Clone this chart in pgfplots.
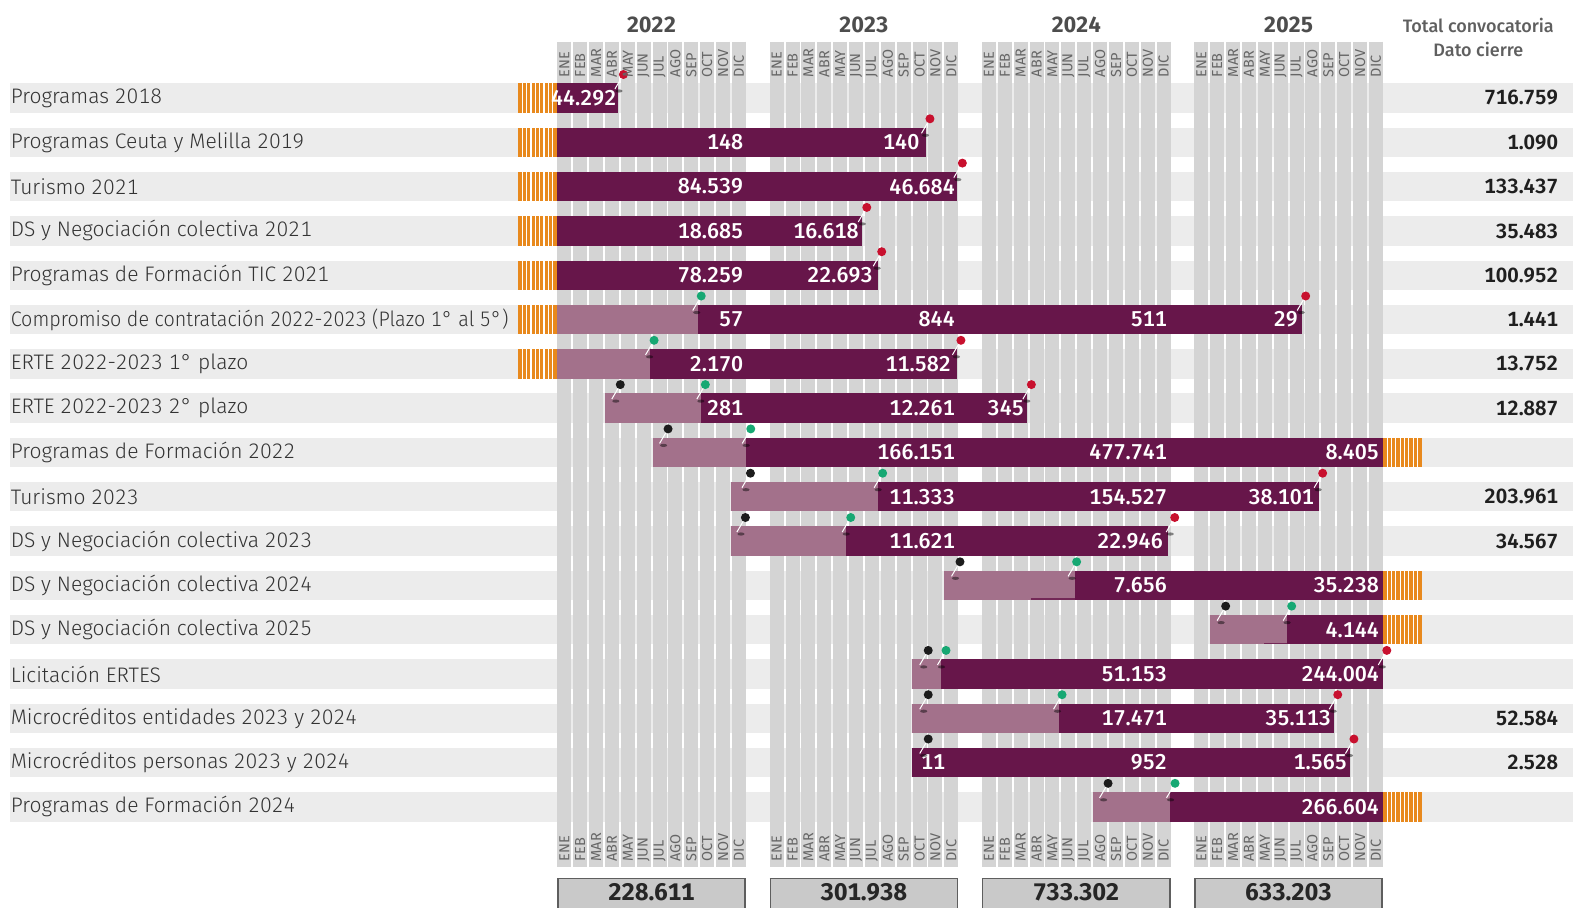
\documentclass[border=0pt]{standalone}
\usepackage{pgfplots}
\pgfplotsset{compat=1.18}
\usepackage{pgfplotstable}
\usepackage{fontspec}
\setmainfont{Fira Sans}[Numbers={Monospaced,Lining}]
\newfontfamily\firalight{Fira Sans Light}[Numbers={Monospaced,Lining}]
\newfontfamily\firamed{Fira Sans Medium}[Numbers={Monospaced,Lining}]
\newfontfamily\firasemi{Fira Sans SemiBold}[Numbers={Monospaced,Lining}]

\definecolor{darkp}{HTML}{67164A}
\definecolor{lightp}{HTML}{A3718B}
\definecolor{orng}{HTML}{E8891D}
\definecolor{bandg}{HTML}{ECECEC}
\definecolor{colg}{HTML}{D4D4D4}
\definecolor{pinr}{HTML}{C8102E}
\definecolor{ping}{HTML}{17A873}
\definecolor{pinb}{HTML}{1C1C1C}
\definecolor{txt}{HTML}{333333}
\definecolor{monthc}{HTML}{666666}
\definecolor{yearc}{HTML}{4D4D4D}
\definecolor{boxg}{HTML}{C9C9C9}
\definecolor{boxb}{HTML}{5E5E5E}

\newcommand\rowfont{\firalight\fontsize{21}{24}\selectfont}
\newcommand\barfont{\firamed\fontsize{21.5}{24}\selectfont}
\newcommand\totfont{\firasemi\fontsize{20.5}{24}\selectfont}
\newcommand\yearfont{\fontsize{22}{26}\selectfont\bfseries}
\newcommand\monthfont{\fontsize{14.5}{17}\selectfont}
\newcommand\headfont{\firamed\fontsize{18}{20}\selectfont}
\newcommand\boxfont{\fontsize{24}{26}\selectfont\bfseries}

\newcommand\declarepin[2]{%
 \pgfdeclareplotmark{#1}{%
  \pgfsetfillopacity{0.45}%
  \pgfpathellipse{\pgfpoint{0pt}{7pt}}{\pgfpoint{3.6pt}{0pt}}{\pgfpoint{0pt}{1.6pt}}%
  \pgfsetfillcolor{black}\pgfusepath{fill}%
  \pgfsetfillopacity{1}%
  \pgfpathmoveto{\pgfpoint{-4pt}{9pt}}\pgfpathlineto{\pgfpoint{4.5pt}{23.5pt}}%
  \pgfsetstrokecolor{white}\pgfsetlinewidth{1pt}\pgfusepath{stroke}%
  \pgfpathcircle{\pgfpoint{4.5pt}{23.5pt}}{4.5pt}%
  \pgfsetfillcolor{#2}\pgfusepath{fill}%
 }}
\declarepin{pinblack}{pinb}
\declarepin{pingreen}{ping}
\declarepin{pinred}{pinr}

\pgfdeclareplotmark{stripes}{%
  \pgfsetstrokecolor{white}\pgfsetlinewidth{1.1pt}%
  \pgfpathmoveto{\pgfpoint{4.33pt}{-14.7pt}}\pgfpathlineto{\pgfpoint{4.33pt}{14.7pt}}%
  \pgfpathmoveto{\pgfpoint{8.66pt}{-14.7pt}}\pgfpathlineto{\pgfpoint{8.66pt}{14.7pt}}%
  \pgfpathmoveto{\pgfpoint{12.99pt}{-14.7pt}}\pgfpathlineto{\pgfpoint{12.99pt}{14.7pt}}%
  \pgfpathmoveto{\pgfpoint{17.32pt}{-14.7pt}}\pgfpathlineto{\pgfpoint{17.32pt}{14.7pt}}%
  \pgfpathmoveto{\pgfpoint{21.65pt}{-14.7pt}}\pgfpathlineto{\pgfpoint{21.65pt}{14.7pt}}%
  \pgfpathmoveto{\pgfpoint{25.98pt}{-14.7pt}}\pgfpathlineto{\pgfpoint{25.98pt}{14.7pt}}%
  \pgfpathmoveto{\pgfpoint{30.31pt}{-14.7pt}}\pgfpathlineto{\pgfpoint{30.31pt}{14.7pt}}%
  \pgfpathmoveto{\pgfpoint{34.64pt}{-14.7pt}}\pgfpathlineto{\pgfpoint{34.64pt}{14.7pt}}%
  \pgfusepath{stroke}}

% x unit: months (2022 ENE starts at 0); y unit: row number
\pgfplotstableread[col sep=comma]{
r,name
1,Programas 2018
2,Programas Ceuta y Melilla 2019
3,Turismo 2021
4,DS y Negociación colectiva 2021
5,Programas de Formación TIC 2021
6,\scalebox{0.94}[1]{Compromiso de contratación 2022-2023 (Plazo 1° al 5°)}
7,ERTE 2022-2023 1° plazo
8,ERTE 2022-2023 2° plazo
9,Programas de Formación 2022
10,Turismo 2023
11,DS y Negociación colectiva 2023
12,DS y Negociación colectiva 2024
13,DS y Negociación colectiva 2025
14,Licitación ERTES
15,Microcréditos entidades 2023 y 2024
16,Microcréditos personas 2023 y 2024
17,Programas de Formación 2024
}\names

\pgfplotstableread{
r s e
1 0 3.84
2 0 23.45
3 0 25.43
4 0 19.38
5 0 20.38
6 8.95 47.37
7 5.90 25.43
8 9.14 29.90
9 12.00 52.51
10 20.40 48.44
11 18.35 38.85
12 32.93 52.51
13 46.42 52.51
14 24.40 52.51
15 31.91 49.41
16 22.56 50.43
17 39.00 52.51
}\darkbars

\pgfplotstableread{
r s e
6 0 8.95
7 0 5.90
8 3.03 9.14
9 6.09 12.00
10 11.07 20.40
11 11.07 18.35
12 24.60 32.93
13 41.52 46.42
14 22.56 24.40
15 22.56 31.91
17 34.06 39.00
}\lightbars

\pgfplotstableread{
r s e
12.31 30.13 32.93
13.31 44.96 46.42
}\darkedge

\pgfplotstableread{
r s e
1 -2.50 -0.04
2 -2.50 -0.04
3 -2.50 -0.04
4 -2.50 -0.04
5 -2.50 -0.04
6 -2.50 -0.04
7 -2.50 -0.04
9 52.51 55.01
12 52.51 55.01
13 52.51 55.01
17 52.51 55.01
}\orangebars

\pgfplotstableread{
r x
8 3.72
9 6.76
10 12.00
11 11.68
12 25.33
13 42.23
14 23.31
15 23.31
16 23.31
17 34.75
}\pinsblack

\pgfplotstableread{
r x
6 8.87
7 5.87
8 9.13
9 12.02
10 20.41
11 18.38
12 32.75
13 46.43
14 24.44
15 31.82
17 39.01
}\pinsgreen

\pgfplotstableread{
r x
1 3.92
2 23.42
3 25.48
4 19.40
5 20.35
6 47.32
7 25.39
8 29.87
10 48.40
11 38.99
14 52.48
15 49.36
16 50.39
}\pinsred

\pgfplotstableread[col sep=comma]{
x,r,lab
3.77,1,44.292
11.84,2,148
23.04,2,140
11.84,3,84.539
25.30,3,46.684
11.84,4,18.685
19.19,4,16.618
11.84,5,78.259
20.08,5,22.693
11.84,6,57
25.30,6,844
38.79,6,511
47.12,6,29
11.84,7,2.170
25.05,7,11.582
11.84,8,281
25.30,8,12.261
29.69,8,345
25.30,9,166.151
38.79,9,477.741
52.28,9,8.405
25.30,10,11.333
38.79,10,154.527
48.14,10,38.101
25.30,11,11.621
38.53,11,22.946
38.79,12,7.656
52.28,12,35.238
52.28,13,4.144
38.79,14,51.153
52.28,14,244.004
38.79,15,17.471
49.22,15,35.113
24.69,16,11
38.79,16,952
50.24,16,1.565
52.28,17,266.604
}\barlabels

\pgfplotstableread[col sep=comma]{
r,lab
1,716.759
2,1.090
3,133.437
4,35.483
5,100.952
6,1.441
7,13.752
8,12.887
10,203.961
11,34.567
15,52.584
16,2.528
}\totals

\pgfplotstableread[col sep=comma]{
x,m
0.445,ENE
1.455,FEB
2.465,MAR
3.476,ABR
4.486,MAY
5.496,JUN
6.506,JUL
7.516,AGO
8.527,SEP
9.537,OCT
10.547,NOV
11.557,DIC
13.952,ENE
14.962,FEB
15.972,MAR
16.983,ABR
17.993,MAY
19.003,JUN
20.013,JUL
21.023,AGO
22.034,SEP
23.044,OCT
24.054,NOV
25.064,DIC
27.459,ENE
28.469,FEB
29.479,MAR
30.490,ABR
31.500,MAY
32.510,JUN
33.520,JUL
34.530,AGO
35.541,SEP
36.551,OCT
37.561,NOV
38.571,DIC
40.966,ENE
41.976,FEB
42.986,MAR
43.997,ABR
45.007,MAY
46.017,JUN
47.027,JUL
48.037,AGO
49.048,SEP
50.058,OCT
51.068,NOV
52.078,DIC
}\months

\pgfplotstableread[col sep=comma]{
x,s,e,year,total
5.99,0,12.0,2022,228.611
19.50,13.507,25.507,2023,301.938
33.01,27.014,39.014,2024,733.302
46.52,40.521,52.521,2025,633.203
}\years

\begin{document}
\begin{tikzpicture}
\begin{axis}[
  scale only axis, width=1573pt, height=907pt,
  xmin=-35.452, xmax=64.612, ymin=-1.2122, ymax=19.262, y dir=reverse,
  hide axis, clip=false,
]
% row bands
\addplot[draw=none, mark=none, error bars/.cd, x dir=plus, x explicit, error mark=none,
  error bar style={draw=bandg, line width=29.4pt}]
  table[x expr=-34.82, y=r, x error expr=99.5] \names;
% month columns
\addplot[draw=none, mark=none, error bars/.cd, y dir=plus, y explicit, error mark=none,
  error bar style={draw=colg, line width=14pt}]
  table[x=x, y expr=-0.271, y error expr=18.63] \months;
% bars
\addplot[draw=none, mark=none, error bars/.cd, x dir=plus, x explicit, error mark=none,
  error bar style={draw=lightp, line width=29.4pt}]
  table[x=s, y=r, x error expr=\thisrow{e}-\thisrow{s}] \lightbars;
\addplot[draw=none, mark=none, error bars/.cd, x dir=plus, x explicit, error mark=none,
  error bar style={draw=darkp!80!lightp, line width=1.4pt}]
  table[x=s, y=r, x error expr=\thisrow{e}-\thisrow{s}] \darkedge;
\addplot[draw=none, mark=none, error bars/.cd, x dir=plus, x explicit, error mark=none,
  error bar style={draw=darkp, line width=29.4pt}]
  table[x=s, y=r, x error expr=\thisrow{e}-\thisrow{s}] \darkbars;
\addplot[draw=none, mark=none, error bars/.cd, x dir=plus, x explicit, error mark=none,
  error bar style={draw=orng, line width=29.4pt}]
  table[x=s, y=r, x error expr=\thisrow{e}-\thisrow{s}] \orangebars;
\addplot[only marks, mark=stripes] table[x=s, y=r] \orangebars;
% bar value labels
\addplot[draw=none, mark=none, nodes near coords, point meta=explicit symbolic,
  nodes near coords style={anchor=east, inner sep=0pt, text=white, font=\barfont}]
  table[x=x, y=r, meta=lab] \barlabels;
% pins
\addplot[only marks, mark=pinblack] table[x=x, y=r] \pinsblack;
\addplot[only marks, mark=pingreen] table[x=x, y=r] \pinsgreen;
\addplot[only marks, mark=pinred] table[x=x, y=r] \pinsred;
% row names
\addplot[draw=none, mark=none, nodes near coords, point meta=explicit symbolic,
  nodes near coords style={anchor=west, inner sep=0pt, text=txt, font=\rowfont}]
  table[x expr=-34.78, y=r, meta=name] \names;
% totals right
\addplot[draw=none, mark=none, nodes near coords, point meta=explicit symbolic,
  nodes near coords style={anchor=east, inner sep=0pt, text=black!88, font=\totfont}]
  table[x expr=63.68, y=r, meta=lab] \totals;
% month labels
\addplot[draw=none, mark=none, nodes near coords, point meta=explicit symbolic,
  nodes near coords style={rotate=90, anchor=west, inner sep=0pt, text=monthc, font=\monthfont}]
  table[x=x, y expr=0.533, meta=m] \months;
\addplot[draw=none, mark=none, nodes near coords, point meta=explicit symbolic,
  nodes near coords style={rotate=90, anchor=west, inner sep=0pt, text=monthc, font=\monthfont}]
  table[x=x, y expr=18.24, meta=m] \months;
% year labels
\addplot[draw=none, mark=none, nodes near coords, point meta=explicit symbolic,
  nodes near coords style={anchor=base, inner sep=0pt, text=yearc, font=\yearfont}]
  table[x=x, y expr=-0.483, meta=year] \years;
% bottom total boxes
\addplot[draw=none, mark=none, error bars/.cd, x dir=plus, x explicit, error mark=none,
  error bar style={draw=boxb, line width=40pt}]
  table[x=s, y expr=19.05, x error expr=\thisrow{e}-\thisrow{s}] \years;
\addplot[draw=none, mark=none, error bars/.cd, x dir=plus, x explicit, error mark=none,
  error bar style={draw=boxg, line width=37pt}]
  table[x expr=\thisrow{s}+0.095, y expr=19.05, x error expr=\thisrow{e}-\thisrow{s}-0.19] \years;
\addplot[draw=none, mark=none, nodes near coords, point meta=explicit symbolic,
  nodes near coords style={anchor=base, inner sep=0pt, text=black!85, font=\boxfont}]
  table[x=x, y expr=19.125, meta=total] \years;
% header
\node[anchor=base, inner sep=0pt, text=yearc!90, font=\headfont] at (axis cs:58.59,-0.474) {Total convocatoria};
\node[anchor=base, inner sep=0pt, text=yearc!90, font=\headfont] at (axis cs:58.59,0.068) {Dato cierre};
\end{axis}
\pgfresetboundingbox
\path[use as bounding box] (current axis.south west) rectangle (current axis.north east);
\end{tikzpicture}
\end{document}
